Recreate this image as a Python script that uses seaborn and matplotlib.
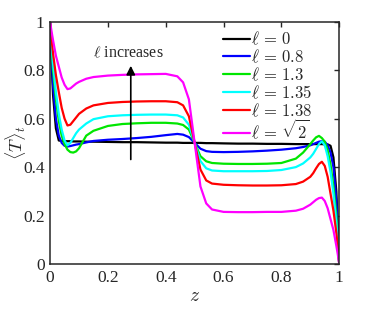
import numpy as np
import pandas as pd
import matplotlib
matplotlib.use("Agg")
import matplotlib.pyplot as plt
import seaborn as sns

# z grid shared by all curves
z = [0, .005, .01, .02, .03, .04, .05, .06, .07, .08, .09, .1, .125, .15, .2, .25, .3, .35, .4,
     .44, .46, .48, .5, .52, .54, .56, .6, .65, .7, .75, .8, .85, .875, .9, .91, .92, .93, .94,
     .95, .96, .97, .98, .99, .995, 1]

T_0 = [1, .84, .70, .56, .51, .508, .507, .507, .507, .506, .506, .506, .505, .505, .504, .503, .503,
       .502, .501, .501, .5, .5, .5, .5, .499, .499, .498, .497, .497, .496, .496, .495, .495, .495,
       .495, .495, .495, .495, .494, .494, .488, .44, .3, .16, 0]
T_08 = [1, .86, .74, .6, .53, .5, .488, .485, .487, .49, .493, .495, .502, .508, .513, .516, .52,
        .525, .532, .537, .534, .524, .5, .476, .466, .463, .462, .463, .465, .468, .472, .478, .483,
        .49, .495, .5, .505, .507, .505, .49, .46, .4, .26, .14, 0]
T_13 = [1, .9, .8, .68, .59, .53, .495, .472, .462, .46, .465, .478, .53, .55, .57, .578, .581,
        .583, .583, .58, .574, .555, .5, .445, .424, .417, .414, .413, .413, .414, .417, .435, .46,
        .495, .51, .523, .529, .52, .505, .47, .41, .32, .2, .1, 0]
T_135 = [1, .91, .83, .71, .62, .555, .51, .49, .5, .52, .54, .555, .58, .598, .61, .614, .616,
         .617, .617, .614, .605, .575, .5, .425, .395, .386, .383, .383, .383, .384, .388, .4, .415,
         .44, .455, .475, .495, .506, .49, .445, .38, .29, .17, .09, 0]
T_138 = [1, .93, .87, .78, .71, .645, .6, .572, .575, .59, .605, .62, .642, .655, .665, .669, .671,
         .672, .672, .668, .655, .61, .5, .39, .345, .332, .327, .325, .324, .324, .325, .33, .34,
         .36, .375, .395, .413, .422, .405, .36, .29, .22, .13, .07, 0]
T_sqrt2 = [1, .96, .925, .86, .815, .77, .74, .722, .725, .735, .745, .752, .765, .772, .778, .781,
           .783, .784, .785, .775, .75, .68, .5, .32, .25, .225, .215, .214, .214, .215, .215, .22,
           .228, .245, .255, .265, .272, .274, .26, .23, .185, .14, .075, .04, 0]

labels = [r"$\ell\,=\,0$", r"$\ell\,=\,0.8$", r"$\ell\,=\,1.3$", r"$\ell\,=\,1.35$",
          r"$\ell\,=\,1.38$", r"$\ell\,=\,\sqrt{2}$"]
colors = ["#000000", "#0000ff", "#00e600", "#00ffff", "#ff0000", "#ff00ff"]
series = [T_0, T_08, T_13, T_135, T_138, T_sqrt2]

df = pd.concat([pd.DataFrame({"z": z, "T": s, "label": lab}) for s, lab in zip(series, labels)])

sns.set_style("white")
plt.rcParams["font.family"] = ["Liberation Serif", "DejaVu Serif"]
plt.rcParams["mathtext.fontset"] = "cm"

fig = plt.figure(figsize=(3.74, 3.12), dpi=100)
ax = fig.add_axes([0.134, 0.154, 0.773, 0.776])

sns.lineplot(data=df, x="z", y="T", hue="label", palette=dict(zip(labels, colors)),
             estimator=None, sort=False, linewidth=1.6, ax=ax)

ax.set_xlim(0, 1)
ax.set_ylim(0, 1)
ticks = [0, 0.2, 0.4, 0.6, 0.8, 1]
tick_labels = ["0", "0.2", "0.4", "0.6", "0.8", "1"]
ax.set_xticks(ticks)
ax.set_xticklabels(tick_labels)
ax.set_yticks(ticks)
ax.set_yticklabels(tick_labels)
ax.tick_params(direction="in", length=3.5, width=1, top=True, right=True, labelsize=12.5,
               colors="#262626", pad=4)
for sp in ax.spines.values():
    sp.set_linewidth(1.1)
    sp.set_color("#262626")

ax.set_xlabel(r"$z$", fontsize=14, labelpad=2)
ax.set_ylabel("")
fig.text(15 / 374, 1 - 143 / 312, r"$\langle T\rangle_t$", rotation=90, ha="center", va="center",
         fontsize=13)

# arrow and note
ax.annotate("", xy=(0.279, 0.83), xytext=(0.279, 0.42),
            arrowprops=dict(arrowstyle="-|>", color="black", lw=1.2, mutation_scale=13))
ax.text(0.27, 0.87, r"$\ell$ increases", ha="center", va="center", fontsize=11.5)

# the sqrt label is taller than the others, so it gets its own legend row
handles, _ = ax.get_legend_handles_labels()
leg_kw = dict(frameon=False, fontsize=12, handlelength=1.6, handletextpad=0.1, borderaxespad=0)
leg1 = ax.legend(handles[:5], labels[:5], loc="upper left", bbox_to_anchor=(0.575, 0.99),
                 labelspacing=0.02, **leg_kw)
ax.add_artist(leg1)
leg2 = ax.legend(handles[5:], labels[5:], loc="center left", bbox_to_anchor=(0.575, 0.55), **leg_kw)
for leg in (leg1, leg2):
    for line in leg.get_lines():
        line.set_linewidth(1.6)

fig.savefig("out.png", dpi=100)
